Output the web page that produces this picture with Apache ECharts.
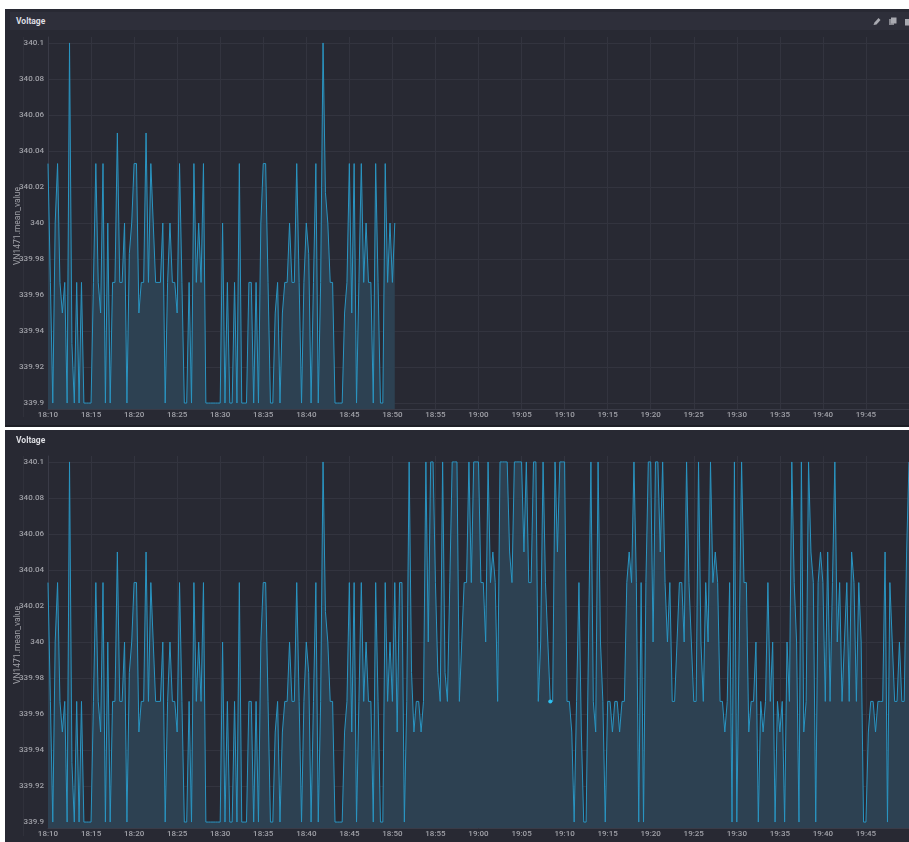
<!DOCTYPE html>
<html>
<head>
<meta charset="utf-8">
<title>Voltage</title>
<script src="https://cdn.jsdelivr.net/npm/echarts@6/dist/echarts.min.js"></script>
<style>
html, body { margin: 0; padding: 0; width: 909px; height: 842px; overflow: hidden; background: #fff; }
.panel { position: absolute; left: 5px; width: 904px; background: #282933; overflow: hidden; font-family: Roboto, "Noto Sans", sans-serif; }
#panel-top { top: 9px; height: 418px; }
#panel-bottom { top: 430px; height: 412px; }
#panel-top .band { position: absolute; left: 0; right: 0; bottom: 0; height: 2px; background: #1e1f26; }
.rule { position: absolute; left: 18px; width: 1px; background: #30313b; }
#panel-top .rule { top: 28px; height: 380px; }
#panel-bottom .rule { top: 26px; height: 380px; }
.header { position: absolute; left: 5px; right: 0; height: 18px; background: #2e2f3a; color: #dcdde2; font-size: 8.5px; font-weight: bold; line-height: 18px; text-indent: 6px; }
#panel-top .header { top: 3px; }
#panel-bottom .header { top: 1px; background: none; }
.icons { position: absolute; top: 4px; left: 863px; width: 40px; height: 10px; }
.chart { position: absolute; left: -5px; width: 909px; }
#panel-top .chart { top: 0; height: 418px; }
#panel-bottom .chart { top: 0; height: 412px; }
</style>
</head>
<body>
<div class="panel" id="panel-top">
    <div class="rule"></div>
    <div class="chart" id="chart-top"></div>
    <div class="header">Voltage
        <svg class="icons" viewBox="0 0 40 10">
            <path d="M0.5 9 L1.5 6.5 L5.5 2 L7.5 4 L3.5 8.5 Z" fill="#a9aab1"/>
            <rect x="16" y="3" width="5" height="6" fill="#85868e"/>
            <rect x="18" y="1.5" width="5.5" height="6" fill="#a9aab1"/>
            <rect x="32" y="3" width="6" height="6.5" fill="#a9aab1"/>
        </svg>
    </div>
    <div class="band"></div>
</div>
<div class="panel" id="panel-bottom">
    <div class="rule"></div>
    <div class="chart" id="chart-bottom"></div>
    <div class="header">Voltage</div>
</div>
<script>
const yTicks = [339.9, 339.92, 339.94, 339.96, 339.98, 340, 340.02, 340.04, 340.06, 340.08, 340.1]
const yMin = 339.8967
const yMax = 340.1033
const hoverIndex = 210
// one sample about every 16.7s
const voltage = [
    340.033, 339.967, 339.9, 340, 340.033, 339.967, 339.95, 339.967, 339.9, 340.1,
    339.933, 339.9, 339.967, 339.9, 339.967, 339.9, 339.9, 339.9, 339.9, 339.967,
    340.033, 339.967, 339.95, 340.033, 339.9, 340, 339.9, 339.967, 339.967, 340.05,
    339.967, 339.967, 340, 339.9, 339.983, 340, 340.033, 340.033, 339.95, 339.967,
    339.967, 340.05, 339.967, 340.033, 340, 339.967, 339.967, 339.967, 340, 339.9,
    339.967, 340, 339.967, 339.967, 339.95, 340.033, 339.967, 339.9, 339.9, 339.967,
    339.9, 340.033, 339.967, 340, 339.967, 340.033, 339.9, 339.9, 339.9, 339.9,
    339.9, 339.9, 339.9, 340, 339.9, 339.967, 339.9, 339.9, 339.967, 339.9,
    340.033, 339.9, 339.9, 339.9, 339.967, 339.967, 339.9, 339.967, 339.9, 340,
    340.033, 340.033, 339.967, 339.9, 339.9, 339.95, 339.967, 339.9, 339.95, 339.967,
    339.967, 340, 339.967, 339.967, 340.033, 339.967, 339.9, 339.967, 340, 339.983,
    339.9, 339.967, 340.033, 339.9, 339.967, 340.1, 340.017, 340, 339.967, 339.967,
    339.9, 339.9, 339.9, 339.9, 339.95, 339.967, 340.033, 339.95, 340.033, 339.9,
    339.967, 340.033, 339.967, 340, 339.967, 339.967, 339.9, 340.033, 339.967, 339.9,
    339.9, 340.033, 339.967, 340, 339.967, 340.033, 339.95, 340.033, 340.033, 339.9,
    339.967, 340.1, 339.983, 339.95, 339.967, 339.967, 339.95, 339.967, 340.1, 340,
    340.1, 340.1, 340.033, 339.983, 339.967, 340.1, 339.983, 339.967, 340.033, 340.1,
    340.1, 340.1, 339.967, 340, 340.033, 340.033, 340.1, 340.033, 340.1, 340.1,
    340.1, 340.033, 340.033, 340, 340.1, 340.033, 340.05, 340.033, 339.967, 340.1,
    340.1, 340.1, 340.1, 340.05, 340.033, 340.1, 340.1, 340.1, 340.1, 340.05,
    340.1, 340.033, 340.033, 340.1, 340.1, 339.967, 340, 340.1, 340.033, 340,
    339.967, 339.967, 340.1, 340.05, 340.1, 340.1, 340.1, 339.967, 339.967, 339.95,
    339.9, 339.967, 340.033, 339.95, 339.9, 339.9, 340, 340.1, 339.967, 339.95,
    340.1, 340, 339.967, 339.9, 339.967, 339.967, 339.95, 339.967, 339.967, 339.95,
    339.967, 339.967, 340.033, 340.05, 340.033, 340.1, 340.033, 339.9, 340.033, 339.9,
    340.033, 340.1, 340.1, 340, 340.1, 340.1, 340.05, 340.1, 340.033, 340,
    340.033, 339.967, 339.967, 340, 340.033, 340.033, 340, 340.1, 340.033, 340,
    339.967, 339.967, 340.1, 340, 339.967, 340.033, 340, 340.1, 340.033, 340.05,
    340.033, 339.967, 339.967, 339.95, 339.967, 340.033, 339.9, 340.1, 339.9, 340,
    340.1, 340.033, 340.033, 339.95, 339.967, 339.967, 340, 339.9, 339.967, 339.95,
    339.967, 340.033, 339.967, 340, 339.9, 339.967, 339.95, 339.967, 339.9, 340,
    339.967, 340.1, 340.033, 340, 339.9, 340.1, 339.95, 339.967, 340.1, 340.05,
    340.033, 339.9, 340.033, 340.05, 340.033, 339.967, 340.05, 339.967, 340.033, 340.1,
    340, 340.033, 339.967, 340, 340.033, 339.967, 340.05, 340.033, 339.967, 340.033,
    340, 339.9, 339.9, 339.95, 339.967, 339.967, 339.95, 339.967, 339.967, 339.967,
    340.05, 339.9, 340.033, 340, 339.967, 339.967, 340, 339.967, 339.967, 340.05,
    340.1
]
// the upper panel stops at 18:50 and its last sample differs
const voltageLive = voltage.slice(0, 145).concat([340])

// category labels, HH:mm:ss for each sample
const sampleTimes = voltage.map((v, i) => {
    const sec = 18 * 3600 + 10 * 60 + Math.round((i * 50) / 3)
    const pad = n => String(n).padStart(2, '0')
    return pad(Math.floor(sec / 3600)) + ':' + pad(Math.floor(sec / 60) % 60) + ':' + pad(sec % 60)
})

function makeOption(values, top, hover) {
    const series = [
        {
            type: 'line',
            data: values,
            symbol: 'none',
            lineStyle: { color: '#2a95c2', width: 1 },
            areaStyle: { color: '#2d4152', opacity: 1, origin: 'start' }
        }
    ]
    if (hover !== null) {
        const dot = values.map((v, i) => (i === hover ? v : null))
        series.push({
            type: 'line',
            data: dot,
            showSymbol: true,
            showAllSymbol: true,
            symbol: 'circle',
            symbolSize: 4,
            itemStyle: { color: '#2ec0f0' },
            lineStyle: { width: 0 }
        })
    }
    return {
        animation: false,
        backgroundColor: 'transparent',
        grid: { left: 48, top: top, width: 861, height: 372, outerBoundsMode: 'none' },
        xAxis: {
            type: 'category',
            boundaryGap: false,
            data: sampleTimes,
            axisLine: { lineStyle: { color: '#3a3b47' } },
            axisTick: { show: false },
            axisLabel: {
                interval: 17,
                showMaxLabel: false,
                color: '#a0a1a8',
                fontFamily: 'Roboto',
                fontWeight: 500,
                fontSize: 8,
                margin: 2,
                formatter: v => v.slice(0, 5)
            },
            splitLine: { show: true, interval: 17, lineStyle: { color: '#33343f', width: 1 } }
        },
        yAxis: {
            type: 'value',
            min: yMin,
            max: yMax,
            name: 'VN1471.mean_value',
            nameLocation: 'middle',
            nameRotate: 90,
            nameGap: 26,
            nameMoveOverlap: false,
            nameTextStyle: { color: '#a0a1a8', fontFamily: 'Roboto', fontSize: 8.5, padding: [0, 6, 0, 0] },
            axisLine: { show: true, lineStyle: { color: '#3a3b47' } },
            axisTick: { show: false, customValues: yTicks },
            axisLabel: {
                customValues: yTicks,
                color: '#a0a1a8',
                fontFamily: 'Roboto',
                fontWeight: 500,
                fontSize: 8,
                margin: 4
            },
            splitLine: { show: true, lineStyle: { color: '#33343f', width: 1 } }
        },
        series: series
    }
}

const chartTop = echarts.init(document.getElementById('chart-top'))
chartTop.setOption(makeOption(voltageLive, 28, null))
const chartBottom = echarts.init(document.getElementById('chart-bottom'))
chartBottom.setOption(makeOption(voltage, 26, hoverIndex))
</script>
</body>
</html>
